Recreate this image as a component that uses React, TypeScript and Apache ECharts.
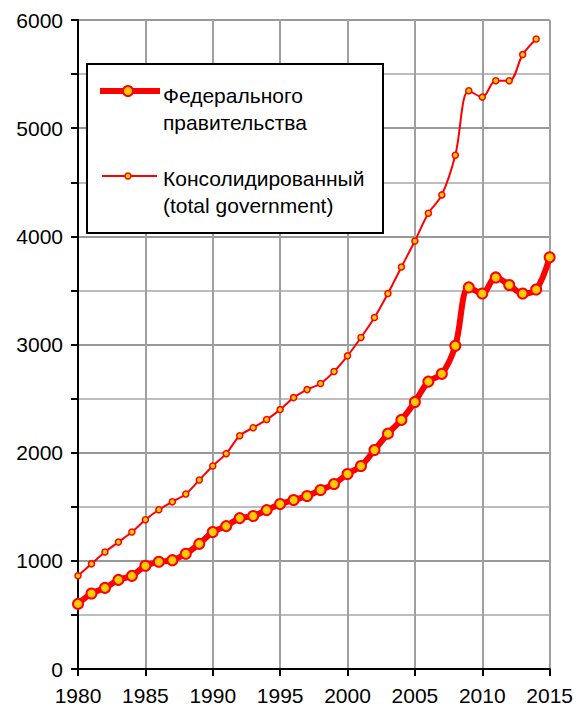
import React, { useEffect, useRef } from "react";
import * as echarts from "echarts";

const federalYears = [1980,1981,1982,1983,1984,1985,1986,1987,1988,1989,1990,1991,1992,1993,1994,1995,1996,1997,1998,1999,2000,2001,2002,2003,2004,2005,2006,2007,2008,2009,2010,2011,2012,2013,2014,2015];
const federalValues = [602,698,750,824,861,954,991,1006,1065,1157,1266,1321,1395,1414,1469,1525,1562,1599,1655,1710,1803,1877,2025,2176,2303,2469,2657,2729,2988,3528,3472,3620,3550,3472,3509,3806];

const totalYears = [1980,1981,1982,1983,1984,1985,1986,1987,1988,1989,1990,1991,1992,1993,1994,1995,1996,1997,1998,1999,2000,2001,2002,2003,2004,2005,2006,2007,2008,2009,2010,2011,2012,2013,2014];
const totalValues = [861,972,1081,1173,1266,1380,1472,1546,1618,1747,1877,1991,2157,2231,2306,2398,2509,2583,2639,2750,2895,3065,3250,3472,3717,3957,4213,4383,4750,5346,5287,5439,5439,5680,5824];

const seriesNames = ["Федерального\nправительства", "Консолидированный\n(total government)"];

const RED = "#ff0000";
const GOLD = "#ffcc00";
const FONT = "'Liberation Sans', Arial, sans-serif";

export default function App() {
  const ref = useRef<HTMLDivElement>(null);
  useEffect(() => {
    if (!ref.current) return;
    const chart = echarts.init(ref.current, null, { renderer: "svg" });
    chart.setOption({
      animation: false,
      backgroundColor: "#ffffff",
      textStyle: { fontFamily: FONT },
      grid: { left: 78, right: 26, top: 20, bottom: 37, containLabel: false },
      xAxis: {
        type: "value",
        min: 1980,
        max: 2015,
        interval: 5,
        axisLine: { show: true, onZero: false, lineStyle: { color: "#000", width: 2 } },
        axisTick: { show: true, inside: false, length: 7, lineStyle: { color: "#000", width: 2 } },
        axisLabel: { fontSize: 21, color: "#000", margin: 16, fontFamily: FONT, formatter: (v: number) => String(v) },
        splitLine: { show: true, lineStyle: { color: "#a0a0a0", width: 2 } },
      },
      yAxis: {
        type: "value",
        min: 0,
        max: 6000,
        interval: 500,
        axisLine: { show: true, lineStyle: { color: "#000", width: 2 } },
        axisTick: { show: true, inside: false, length: 7, lineStyle: { color: "#000", width: 2 } },
        axisLabel: {
          fontSize: 21,
          color: "#000",
          margin: 15,
          fontFamily: FONT,
          formatter: (v: number) => (v % 1000 === 0 ? String(v) : ""),
        },
        splitLine: { show: true, lineStyle: { color: ["#999999", "#bdbdbd"], width: 2 } },
      },
      series: [
        {
          name: seriesNames[1],
          type: "line",
          smooth: 0.35,
          data: totalYears.map((y, i) => [y, totalValues[i]]),
          lineStyle: { color: RED, width: 2 },
          symbol: "circle",
          symbolSize: 6,
          itemStyle: { color: GOLD, borderColor: RED, borderWidth: 1.5 },
          z: 3,
        },
        {
          name: seriesNames[0],
          type: "line",
          smooth: 0.35,
          data: federalYears.map((y, i) => [y, federalValues[i]]),
          lineStyle: { color: RED, width: 6 },
          symbol: "circle",
          symbolSize: 10,
          itemStyle: { color: GOLD, borderColor: RED, borderWidth: 2 },
          z: 4,
        },
      ],
      graphic: [
        {
          type: "rect",
          shape: { x: 87, y: 64, width: 296, height: 169 },
          style: { fill: "#ffffff", stroke: "#000000", lineWidth: 2 },
          z: 10,
        },
        {
          type: "line",
          shape: { x1: 100, y1: 91, x2: 160, y2: 91 },
          style: { stroke: RED, lineWidth: 6 },
          z: 11,
        },
        {
          type: "circle",
          shape: { cx: 128, cy: 91, r: 5 },
          style: { fill: GOLD, stroke: RED, lineWidth: 2 },
          z: 12,
        },
        {
          type: "text",
          x: 163,
          y: 109,
          style: {
            text: seriesNames[0],
            font: "21px " + FONT,
            fill: "#000",
            lineHeight: 27,
            verticalAlign: "middle",
            align: "left",
          },
          z: 12,
        },
        {
          type: "line",
          shape: { x1: 102, y1: 176, x2: 157, y2: 176 },
          style: { stroke: RED, lineWidth: 2 },
          z: 11,
        },
        {
          type: "circle",
          shape: { cx: 128, cy: 176, r: 3 },
          style: { fill: GOLD, stroke: RED, lineWidth: 1.5 },
          z: 12,
        },
        {
          type: "text",
          x: 163,
          y: 192,
          style: {
            text: seriesNames[1],
            font: "21px " + FONT,
            fill: "#000",
            lineHeight: 27,
            verticalAlign: "middle",
            align: "left",
          },
          z: 12,
        },
      ],
    });
    return () => chart.dispose();
  }, []);
  return (
    <div
      ref={ref}
      style={{ position: "fixed", left: 0, top: 0, width: 576, height: 706 }}
    />
  );
}
